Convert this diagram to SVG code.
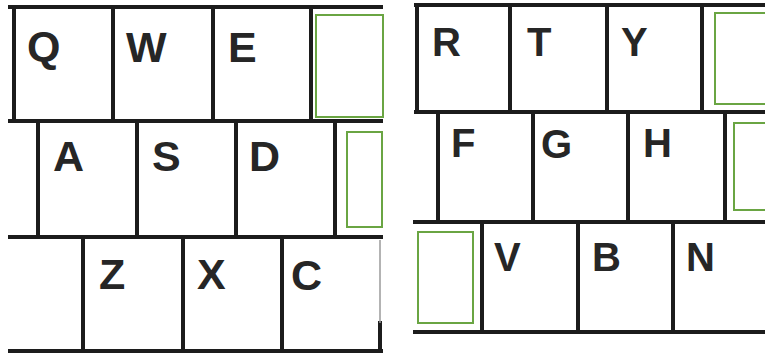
<svg xmlns="http://www.w3.org/2000/svg" width="765" height="356" viewBox="0 0 765 356">
<style>
.key{fill:#ffffff;}
.lbl{font-family:"Liberation Sans",Arial,sans-serif;font-weight:bold;fill:#262626;}
.l{font-size:43px;}
.r{font-size:40px;}
.blank{fill:#ffffff;stroke:#6aa543;stroke-width:2;}
.ln{stroke:#1c1c1c;stroke-width:4;fill:none;stroke-linecap:square;}
</style>
<rect width="765" height="356" fill="#ffffff"/>
<g id="key-Q"><rect class="key" x="14" y="7" width="99" height="114"/><text class="lbl l" x="27" y="61">Q</text></g>
<g id="key-W"><rect class="key" x="113" y="7" width="100" height="114"/><text class="lbl l" x="126" y="62">W</text></g>
<g id="key-E"><rect class="key" x="213" y="7" width="98" height="114"/><text class="lbl l" x="228" y="62">E</text></g>
<g id="key-L1"><rect class="blank" x="316" y="15" width="67" height="102"/></g>
<g id="key-A"><rect class="key" x="38" y="121" width="99" height="116"/><text class="lbl l" x="53" y="171">A</text></g>
<g id="key-S"><rect class="key" x="137" y="121" width="99" height="116"/><text class="lbl l" x="152" y="171">S</text></g>
<g id="key-D"><rect class="key" x="236" y="121" width="99" height="116"/><text class="lbl l" x="249" y="171">D</text></g>
<g id="key-L2"><rect class="blank" x="347" y="132" width="35" height="95"/></g>
<g id="key-Z"><rect class="key" x="83" y="237" width="100" height="114"/><text class="lbl l" x="99" y="289">Z</text></g>
<g id="key-X"><rect class="key" x="183" y="237" width="99" height="114"/><text class="lbl l" x="197" y="289">X</text></g>
<g id="key-C"><rect class="key" x="282" y="237" width="98" height="114"/><text class="lbl l" x="291" y="290">C</text></g>
<g id="key-R"><rect class="key" x="417" y="5" width="93" height="107"/><text class="lbl r" x="432" y="56">R</text></g>
<g id="key-T"><rect class="key" x="510" y="5" width="97" height="107"/><text class="lbl r" x="527" y="56">T</text></g>
<g id="key-Y"><rect class="key" x="607" y="5" width="95" height="107"/><text class="lbl r" x="621" y="56">Y</text></g>
<g id="key-R1"><rect class="blank" x="715" y="13" width="60" height="91"/></g>
<g id="key-F"><rect class="key" x="438" y="112" width="95" height="110"/><text class="lbl r" x="451" y="157">F</text></g>
<g id="key-G"><rect class="key" x="533" y="112" width="95" height="110"/><text class="lbl r" x="541" y="158">G</text></g>
<g id="key-H"><rect class="key" x="628" y="112" width="97" height="110"/><text class="lbl r" x="643" y="157">H</text></g>
<g id="key-R2"><rect class="blank" x="734" y="123" width="40" height="87"/></g>
<g id="key-R3"><rect class="blank" x="418" y="232" width="55" height="91"/></g>
<g id="key-V"><rect class="key" x="482" y="222" width="96" height="110"/><text class="lbl r" x="494" y="271">V</text></g>
<g id="key-B"><rect class="key" x="578" y="222" width="95" height="110"/><text class="lbl r" x="592" y="271">B</text></g>
<g id="key-N"><rect class="key" x="673" y="222" width="92" height="110"/><text class="lbl r" x="686" y="271">N</text></g>
<g id="connectors" class="ln">
<path d="M10 7H381M10 121H381M10 237H381M10 351H381"/>
<path d="M14 7V121M113 7V121M213 7V121M311 7V121"/>
<path d="M38 121V237M137 121V237M236 121V237M335 121V237"/>
<path d="M83 237V351M183 237V351M282 237V351M380 323V351"/>
<path d="M416 5H765M416 112H765M415 222H765M415 332H765"/>
<path d="M417 5V112M510 5V112M607 5V112M702 5V112"/>
<path d="M438 112V222M533 112V222M628 112V222M725 112V222"/>
<path d="M482 222V332M578 222V332M673 222V332"/>
</g>
<path d="M380 240V323" stroke="#9a9a9a" stroke-width="1.5"/>
</svg>
